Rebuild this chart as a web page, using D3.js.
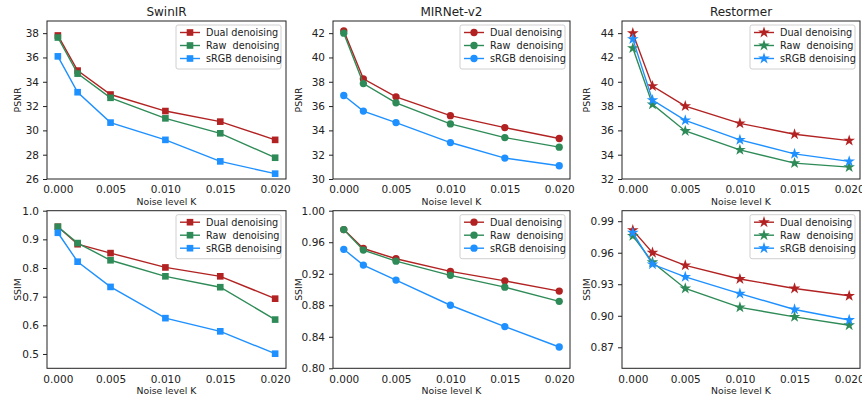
<!DOCTYPE html>
<html>
<head>
<meta charset="utf-8">
<script src="https://cdn.jsdelivr.net/npm/d3@7"></script>
<style>
  html, body { margin: 0; padding: 0; background: #fff; }
  svg { display: block; font-family: "DejaVu Sans", sans-serif; }
  .leg text { white-space: pre; }
</style>
</head>
<body>
<svg id="chart" width="862" height="401"></svg>
<script>
// ---------------- data ----------------
const noiseK = [0.0002, 0.002, 0.005, 0.010, 0.015, 0.020];
const xTickValues = [0.0002, 0.005, 0.010, 0.015, 0.020];
const seriesNames = ["Dual denoising", "Raw  denoising", "sRGB denoising"];
const seriesColors = ["#b22222", "#2e8b57", "#1e90ff"];
const models = ["SwinIR", "MIRNet-v2", "Restormer"];

const swinirPsnrDual = [37.81, 34.92, 32.95, 31.59, 30.72, 29.22];
const swinirPsnrRaw  = [37.64, 34.67, 32.68, 30.99, 29.76, 27.75];
const swinirPsnrSrgb = [36.09, 33.14, 30.64, 29.22, 27.45, 26.44];
const mirnetPsnrDual = [42.19, 38.24, 36.76, 35.21, 34.23, 33.33];
const mirnetPsnrRaw  = [42.00, 37.85, 36.27, 34.53, 33.41, 32.62];
const mirnetPsnrSrgb = [36.87, 35.59, 34.64, 33.00, 31.72, 31.09];
const restormerPsnrDual = [44.00, 39.64, 38.00, 36.58, 35.68, 35.16];
const restormerPsnrRaw  = [42.77, 38.14, 35.95, 34.40, 33.31, 32.98];
const restormerPsnrSrgb = [43.51, 38.49, 36.83, 35.22, 34.07, 33.45];

const swinirSsimDual = [0.944, 0.883, 0.852, 0.802, 0.771, 0.693];
const swinirSsimRaw  = [0.944, 0.887, 0.827, 0.771, 0.733, 0.620];
const swinirSsimSrgb = [0.923, 0.822, 0.734, 0.625, 0.579, 0.501];
const mirnetSsimDual = [0.976, 0.952, 0.939, 0.923, 0.911, 0.898];
const mirnetSsimRaw  = [0.976, 0.950, 0.936, 0.918, 0.903, 0.885];
const mirnetSsimSrgb = [0.951, 0.931, 0.912, 0.880, 0.853, 0.827];
const restormerSsimDual = [0.9815, 0.960, 0.948, 0.935, 0.926, 0.919];
const restormerSsimRaw  = [0.976, 0.951, 0.926, 0.908, 0.899, 0.891];
const restormerSsimSrgb = [0.979, 0.949, 0.937, 0.921, 0.906, 0.896];

const psnrTicks = [[26, 28, 30, 32, 34, 36, 38], [30, 32, 34, 36, 38, 40, 42], [32, 34, 36, 38, 40, 42, 44]];
const psnrLimits = [[26, 39], [30, 43], [32, 45]];
const ssimTicks = [[0.5, 0.6, 0.7, 0.8, 0.9, 1.0], [0.80, 0.84, 0.88, 0.92, 0.96, 1.00], [0.87, 0.90, 0.93, 0.96, 0.99]];
const ssimLimits = [[0.45, 1.0], [0.80, 1.00], [0.85, 1.00]];
const ssimFormats = [".1f", ".2f", ".2f"];

// ---------------- layout ----------------
const cols = [
  { left: 47, right: 286, ylab: 21 },
  { left: 333, right: 570, ylab: 302 },
  { left: 622, right: 860, ylab: 590 }
];
const rows = [
  { top: 21, bottom: 179 },
  { top: 210.7, bottom: 368.3 }
];
const markerTypes = [d3.symbolSquare, d3.symbolCircle, d3.symbolStar];
const markerSizes = [44, 42, 42];

const svg = d3.select("#chart");

const panels = [
  { r: 0, c: 0, series: [swinirPsnrDual, swinirPsnrRaw, swinirPsnrSrgb], lim: psnrLimits[0], ticks: psnrTicks[0], fmt: "d", ylabel: "PSNR" },
  { r: 0, c: 1, series: [mirnetPsnrDual, mirnetPsnrRaw, mirnetPsnrSrgb], lim: psnrLimits[1], ticks: psnrTicks[1], fmt: "d", ylabel: "PSNR" },
  { r: 0, c: 2, series: [restormerPsnrDual, restormerPsnrRaw, restormerPsnrSrgb], lim: psnrLimits[2], ticks: psnrTicks[2], fmt: "d", ylabel: "PSNR" },
  { r: 1, c: 0, series: [swinirSsimDual, swinirSsimRaw, swinirSsimSrgb], lim: ssimLimits[0], ticks: ssimTicks[0], fmt: ssimFormats[0], ylabel: "SSIM" },
  { r: 1, c: 1, series: [mirnetSsimDual, mirnetSsimRaw, mirnetSsimSrgb], lim: ssimLimits[1], ticks: ssimTicks[1], fmt: ssimFormats[1], ylabel: "SSIM" },
  { r: 1, c: 2, series: [restormerSsimDual, restormerSsimRaw, restormerSsimSrgb], lim: ssimLimits[2], ticks: ssimTicks[2], fmt: ssimFormats[2], ylabel: "SSIM" }
];

const xMin = d3.min(noiseK), xMax = d3.max(noiseK);
const xPad = (xMax - xMin) * 0.05;

panels.forEach(p => {
  const col = cols[p.c], row = rows[p.r];
  const marker = markerTypes[p.c], msize = markerSizes[p.c];
  const x = d3.scaleLinear().domain([xMin - xPad, xMax + xPad]).range([col.left, col.right]);
  const y = d3.scaleLinear().domain(p.lim).range([row.bottom, row.top]);
  const g = svg.append("g");

  // series
  p.series.forEach((vals, si) => {
    const pts = noiseK.map((k, i) => [k, vals[i]]);
    g.append("path")
      .attr("d", d3.line().x(d => x(d[0])).y(d => y(d[1]))(pts))
      .attr("fill", "none")
      .attr("stroke", seriesColors[si])
      .attr("stroke-width", 1.4);
    g.selectAll(null).data(pts).enter().append("path")
      .attr("transform", d => `translate(${x(d[0])},${y(d[1])})`)
      .attr("d", d3.symbol().type(marker).size(msize))
      .attr("fill", seriesColors[si]);
  });

  // frame
  g.append("rect")
    .attr("x", col.left).attr("y", row.top)
    .attr("width", col.right - col.left).attr("height", row.bottom - row.top)
    .attr("fill", "none").attr("stroke", "#222").attr("stroke-width", 1);

  // axes
  const xa = g.append("g").attr("transform", `translate(0,${row.bottom})`)
    .call(d3.axisBottom(x).tickValues(xTickValues).tickFormat(d3.format(".3f")).tickSize(0).tickPadding(7));
  const ya = g.append("g").attr("transform", `translate(${col.left},0)`)
    .call(d3.axisLeft(y).tickValues(p.ticks).tickFormat(d3.format(p.fmt)).tickSizeInner(4).tickSizeOuter(0).tickPadding(4));
  [xa, ya].forEach(a => {
    a.select(".domain").remove();
    a.selectAll("text").attr("font-size", 10.5).attr("fill", "#222").attr("font-family", "DejaVu Sans");
    a.selectAll("line").attr("stroke", "#222");
  });

  // labels
  const cx = (col.left + col.right) / 2;
  const cy = (row.top + row.bottom) / 2;
  g.append("text").attr("x", cx).attr("y", row.bottom + 26).attr("text-anchor", "middle")
    .attr("font-size", 9.3).attr("fill", "#222").text("Noise level K");
  g.append("text").attr("transform", `translate(${col.ylab},${cy}) rotate(-90)`)
    .attr("text-anchor", "middle").attr("font-size", 9.3).attr("fill", "#222").text(p.ylabel);
  if (p.r === 0) {
    g.append("text").attr("x", cx).attr("y", 16).attr("text-anchor", "middle")
      .attr("font-size", 12).attr("fill", "#222").text(models[p.c]);
  }

  // legend
  const lw = 105, lh = 44;
  const lx = col.right - 5 - lw, ly = row.top + 4;
  const leg = g.append("g").attr("class", "leg").attr("transform", `translate(${lx},${ly})`);
  leg.append("rect").attr("width", lw).attr("height", lh).attr("rx", 2)
    .attr("fill", "#fff").attr("fill-opacity", 0.8).attr("stroke", "#d0d0d0").attr("stroke-width", 1);
  seriesNames.forEach((name, si) => {
    const yy = 7.5 + si * 13;
    leg.append("line").attr("x1", 4).attr("x2", 24).attr("y1", yy).attr("y2", yy)
      .attr("stroke", seriesColors[si]).attr("stroke-width", 1.4);
    leg.append("path").attr("transform", `translate(14,${yy})`)
      .attr("d", d3.symbol().type(marker).size(msize)).attr("fill", seriesColors[si]);
    leg.append("text").attr("x", 30).attr("y", yy + 3.5).attr("font-size", 9.7)
      .attr("fill", "#222").attr("xml:space", "preserve").text(name);
  });
});
</script>
</body>
</html>
